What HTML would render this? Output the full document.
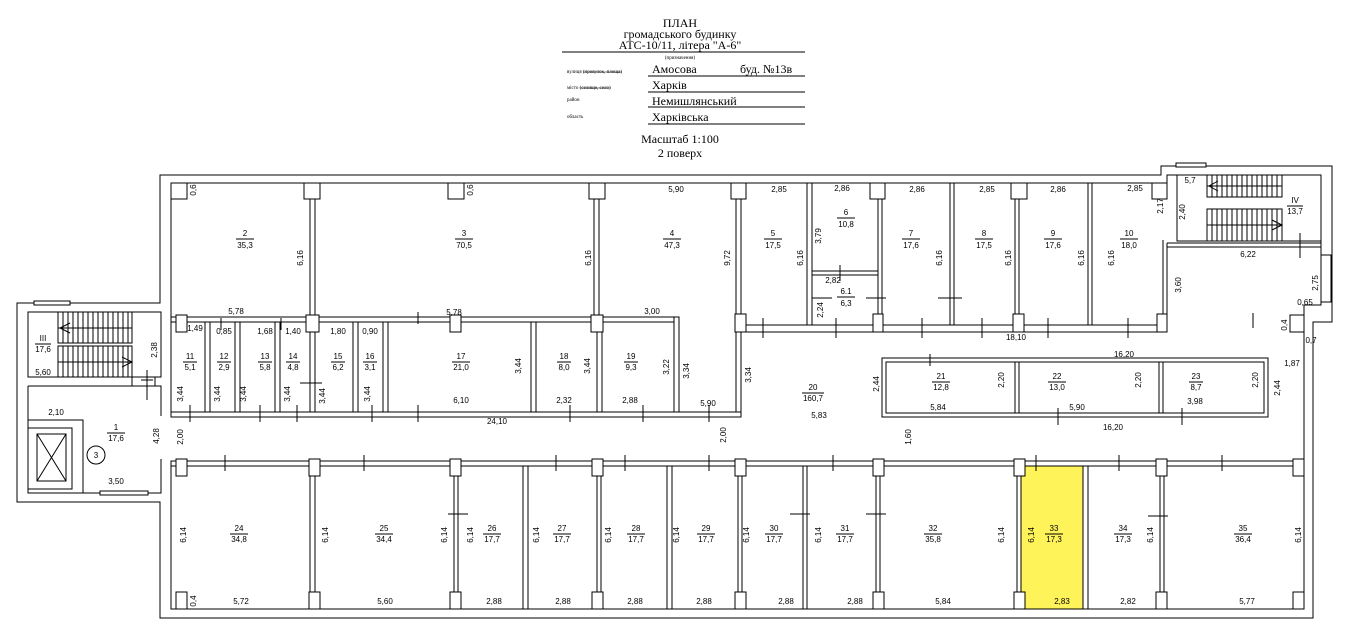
<!DOCTYPE html>
<html><head><meta charset="utf-8"><style>
html,body{margin:0;padding:0;background:#fff;width:1367px;height:635px;overflow:hidden}
svg{display:block}
text{font-family:"Liberation Sans",sans-serif;font-size:8px;fill:#000}
.s{font-family:"Liberation Serif",serif;font-size:12px}
.t{font-family:"Liberation Serif",serif;font-size:5px}
.w{fill:#fff;stroke:#000;stroke-width:1}
.l{stroke:#000;stroke-width:1;fill:none}
</style></head><body>
<svg width="1367" height="635" viewBox="0 0 1367 635" xmlns="http://www.w3.org/2000/svg">
<!-- header -->
<text class="s" x="680" y="27" text-anchor="middle">ПЛАН</text>
<text class="s" x="680" y="38" text-anchor="middle">громадського будинку</text>
<text class="s" x="680" y="49" text-anchor="middle">АТС-10/11, літера "А-6"</text>
<line class="l" x1="562" y1="52" x2="805" y2="52"/>
<text class="t" x="680" y="59" text-anchor="middle">(призначення)</text>
<text class="t" x="567" y="73">вулиця <tspan text-decoration="line-through">(провулок, площа)</tspan></text>
<text class="s" x="652" y="73">Амосова</text><text class="s" x="740" y="73">буд. №13в</text>
<line class="l" x1="648" y1="76" x2="805" y2="76"/>
<text class="t" x="567" y="89">місто <tspan text-decoration="line-through">(селище, село)</tspan></text>
<text class="s" x="652" y="89">Харків</text>
<line class="l" x1="648" y1="92" x2="805" y2="92"/>
<text class="t" x="567" y="101">район</text>
<text class="s" x="652" y="105">Немишлянський</text>
<line class="l" x1="648" y1="107" x2="805" y2="107"/>
<text class="t" x="567" y="118">область</text>
<text class="s" x="652" y="121">Харківська</text>
<line class="l" x1="648" y1="124" x2="805" y2="124"/>
<text class="s" x="680" y="143" text-anchor="middle">Масштаб 1:100</text>
<text class="s" x="680" y="157" text-anchor="middle">2  поверх</text>

<!-- yellow room -->
<rect x="1021" y="466" width="62" height="143" fill="#fff35a"/>

<!-- outer walls -->
<path class="l" stroke-width="1.3" d="M160,175 H1161 V166 H1332 V322 H1313 V618 H160 V502 H17 V303 H160 Z"/>
<path class="l" d="M171,183 H1167 V175 H1321 V305 H1304 V609 H171 V465 M171,412 V183"/>
<!-- stair III and lobby -->
<rect class="l" x="28" y="312" width="133" height="65"/>
<path class="l" d="M28,386 H161 V416 M161,459 V493 H28 V386 M132,377 V386 M155,377 V386"/>
<rect class="w" x="34" y="301" width="36" height="4"/>
<rect class="w" x="100" y="491" width="48" height="4"/>
<g class="l">
<rect x="58" y="312" width="74" height="31"/><rect x="58" y="346" width="74" height="31"/>
<path d="M63,312V343M68,312V343M73,312V343M78,312V343M83,312V343M88,312V343M93,312V343M98,312V343M103,312V343M108,312V343M113,312V343M118,312V343M123,312V343M128,312V343M63,346V377M68,346V377M73,346V377M78,346V377M83,346V377M88,346V377M93,346V377M98,346V377M103,346V377M108,346V377M113,346V377M118,346V377M123,346V377M128,346V377M58,328H132M58,362H132"/>
<path d="M70,323L60,328L70,333M122,357L132,362L122,367"/>
<rect x="28" y="420" width="55" height="73"/><rect x="28" y="428" width="44" height="61"/>
<rect x="37" y="434" width="29" height="47"/><path d="M37,434L66,481M66,434L37,481"/>
<circle cx="96" cy="455" r="9"/>
<path d="M147,370V400M141,380H153"/>
</g>
<!-- stair IV -->
<g class="l">
<rect x="1177" y="175" width="144" height="66"/>
<rect x="1207" y="175" width="75" height="22"/><rect x="1207" y="209" width="75" height="32"/>
<path d="M1212,175V197M1217,175V197M1222,175V197M1227,175V197M1232,175V197M1237,175V197M1242,175V197M1247,175V197M1252,175V197M1257,175V197M1262,175V197M1267,175V197M1272,175V197M1277,175V197M1212,209V241M1217,209V241M1222,209V241M1227,209V241M1232,209V241M1237,209V241M1242,209V241M1247,209V241M1252,209V241M1257,209V241M1262,209V241M1267,209V241M1272,209V241M1277,209V241M1207,186H1282M1207,225H1282M1218,181L1209,186L1218,191M1272,220L1282,225L1272,230"/>
<path d="M1167,243H1321M1167,247H1321M1167,243V332M1163,240V332M1300,233V258"/>
<rect class="w" x="1176" y="163" width="30" height="4"/>
<rect class="w" x="1321" y="255" width="10" height="47"/>
<rect class="w" x="1290" y="315" width="14" height="17"/>
</g>
<!-- top row columns -->
<g class="w">
<rect x="171" y="183" width="16" height="16"/><rect x="304" y="183" width="16" height="16"/><rect x="448" y="183" width="16" height="16"/>
<rect x="589" y="183" width="16" height="16"/><rect x="731" y="183" width="15" height="16"/><rect x="870" y="183" width="15" height="16"/>
<rect x="1011" y="183" width="16" height="16"/><rect x="1152" y="183" width="15" height="16"/>
</g>
<!-- upper interior walls -->
<g class="w">
<rect x="310" y="199" width="5" height="117"/><rect x="594" y="199" width="5" height="117"/><rect x="736" y="199" width="5" height="218"/>
<rect x="807" y="183" width="5" height="142"/><rect x="878" y="199" width="4" height="126"/><rect x="950" y="183" width="4" height="142"/>
<rect x="1015" y="199" width="4" height="126"/><rect x="1088" y="183" width="4" height="142"/>
<rect x="812" y="271" width="66" height="4"/>
<rect x="171" y="317" width="507" height="5"/><rect x="745" y="325" width="422" height="7"/>
<rect x="674" y="317" width="5" height="96"/>
<rect x="171" y="412" width="570" height="5"/>
<rect x="205" y="322" width="5" height="90"/><rect x="235" y="322" width="5" height="90"/><rect x="275" y="322" width="5" height="90"/>
<rect x="310" y="322" width="5" height="90"/><rect x="353" y="322" width="5" height="90"/><rect x="383" y="322" width="5" height="90"/>
<rect x="531" y="322" width="5" height="90"/><rect x="597" y="322" width="5" height="90"/>
<rect x="882" y="358" width="386" height="59"/>
</g>
<rect class="l" x="886" y="362" width="378" height="51"/>
<g class="w"><rect x="1015" y="362" width="4" height="51"/><rect x="1159" y="362" width="4" height="51"/></g>
<g class="w">
<rect x="176" y="315" width="11" height="17"/><rect x="306" y="315" width="13" height="17"/><rect x="450" y="315" width="11" height="17"/>
<rect x="591" y="315" width="12" height="17"/><rect x="735" y="314" width="11" height="18"/><rect x="873" y="314" width="10" height="18"/>
<rect x="1013" y="314" width="11" height="18"/><rect x="1157" y="314" width="10" height="18"/>
</g>
<!-- lower corridor wall and rooms -->
<rect class="w" x="171" y="461" width="1133" height="5"/>
<g class="w">
<rect x="310" y="466" width="5" height="143"/><rect x="454" y="466" width="4" height="143"/><rect x="523" y="466" width="5" height="143"/>
<rect x="597" y="466" width="4" height="143"/><rect x="667" y="466" width="5" height="143"/><rect x="738" y="466" width="4" height="143"/>
<rect x="803" y="466" width="4" height="143"/><rect x="876" y="466" width="4" height="143"/><rect x="1017" y="466" width="4" height="143"/>
<rect x="1083" y="466" width="5" height="143"/><rect x="1160" y="466" width="4" height="143"/>
</g>
<g class="w">
<rect x="176" y="459" width="11" height="17"/><rect x="309" y="459" width="11" height="17"/><rect x="450" y="459" width="11" height="17"/>
<rect x="592" y="459" width="11" height="17"/><rect x="735" y="459" width="11" height="17"/><rect x="873" y="459" width="11" height="17"/>
<rect x="1014" y="459" width="11" height="17"/><rect x="1156" y="459" width="11" height="17"/><rect x="1293" y="459" width="11" height="17"/>
<rect x="176" y="592" width="11" height="17"/><rect x="309" y="592" width="11" height="17"/><rect x="450" y="592" width="11" height="17"/>
<rect x="592" y="592" width="11" height="17"/><rect x="735" y="592" width="11" height="17"/><rect x="873" y="592" width="11" height="17"/>
<rect x="1014" y="592" width="11" height="17"/><rect x="1156" y="592" width="11" height="17"/><rect x="1293" y="592" width="11" height="17"/>
</g>
<!-- door ticks -->
<path class="l" d="M225,455V471M364,455V471M556,455V471M625,455V471M709,455V471M833,455V471M1036,455V471M1119,455V471M1222,455V471
M190,405V422M260,405V422M297,405V422M372,405V422M418,405V422M570,405V422M643,405V422M709,405V422
M763,318V338M836,318V338M922,318V338M982,318V338M1048,318V338M1128,318V338M1058,408V425M1182,408V425M930,354V366
M812,298H832M866,298H886M938,298H962M840,265V281M448,514H468M790,514H810M866,514H886M1148,516H1168M300,383H322M221,318V330M281,318V330M418,312V324M1253,313V328"/>

<!-- room labels -->
<g text-anchor="middle">
<text x="245" y="236">2</text><text x="245" y="248">35,3</text>
<text x="464" y="236">3</text><text x="464" y="248">70,5</text>
<text x="672" y="236">4</text><text x="672" y="248">47,3</text>
<text x="773" y="236">5</text><text x="773" y="248">17,5</text>
<text x="846" y="215">6</text><text x="846" y="227">10,8</text>
<text x="846" y="294">6.1</text><text x="846" y="306">6,3</text>
<text x="911" y="236">7</text><text x="911" y="248">17,6</text>
<text x="984" y="236">8</text><text x="984" y="248">17,5</text>
<text x="1053" y="236">9</text><text x="1053" y="248">17,6</text>
<text x="1129" y="236">10</text><text x="1129" y="248">18,0</text>
<text x="1295" y="203">IV</text><text x="1295" y="214">13,7</text>
<text x="43" y="341">III</text><text x="43" y="352">17,6</text>
<text x="116" y="430">1</text><text x="116" y="441">17,6</text>
<text x="190" y="359">11</text><text x="190" y="370">5,1</text>
<text x="224" y="359">12</text><text x="224" y="370">2,9</text>
<text x="265" y="359">13</text><text x="265" y="370">5,8</text>
<text x="293" y="359">14</text><text x="293" y="370">4,8</text>
<text x="338" y="359">15</text><text x="338" y="370">6,2</text>
<text x="370" y="359">16</text><text x="370" y="370">3,1</text>
<text x="461" y="359">17</text><text x="461" y="370">21,0</text>
<text x="564" y="359">18</text><text x="564" y="370">8,0</text>
<text x="631" y="359">19</text><text x="631" y="370">9,3</text>
<text x="813" y="390">20</text><text x="813" y="401">160,7</text>
<text x="941" y="379">21</text><text x="941" y="390">12,8</text>
<text x="1057" y="379">22</text><text x="1057" y="390">13,0</text>
<text x="1196" y="379">23</text><text x="1196" y="390">8,7</text>
<text x="239" y="531">24</text><text x="239" y="542">34,8</text>
<text x="384" y="531">25</text><text x="384" y="542">34,4</text>
<text x="492" y="531">26</text><text x="492" y="542">17,7</text>
<text x="562" y="531">27</text><text x="562" y="542">17,7</text>
<text x="636" y="531">28</text><text x="636" y="542">17,7</text>
<text x="706" y="531">29</text><text x="706" y="542">17,7</text>
<text x="774" y="531">30</text><text x="774" y="542">17,7</text>
<text x="845" y="531">31</text><text x="845" y="542">17,7</text>
<text x="933" y="531">32</text><text x="933" y="542">35,8</text>
<text x="1054" y="531">33</text><text x="1054" y="542">17,3</text>
<text x="1123" y="531">34</text><text x="1123" y="542">17,3</text>
<text x="1243" y="531">35</text><text x="1243" y="542">36,4</text>
<text x="96" y="458">3</text>
</g>
<g class="l" stroke-width="0.8">
<path d="M236,239H254M455,239H473M663,239H681M764,239H782M837,218H855M837,297H855M902,239H920M975,239H993M1044,239H1062M1120,239H1138M1287,206H1303M35,344H51M107,433H125M183,362H197M217,362H231M258,362H272M286,362H300M331,362H345M363,362H377M452,362H470M557,362H571M624,362H638M802,393H824M932,382H950M1048,382H1066M1189,382H1203M230,534H248M375,534H393M483,534H501M553,534H571M627,534H645M697,534H715M765,534H783M836,534H854M924,534H942M1045,534H1063M1114,534H1132M1234,534H1252"/>
</g>
<!-- horizontal dims -->
<g text-anchor="middle">
<text x="676" y="192">5,90</text><text x="779" y="192">2,85</text><text x="842" y="191">2,86</text><text x="917" y="192">2,86</text>
<text x="987" y="192">2,85</text><text x="1058" y="192">2,86</text><text x="1135" y="191">2,85</text><text x="1190" y="183">5,7</text>
<text x="1248" y="257">6,22</text><text x="1305" y="305">0,65</text><text x="1311" y="343">0,7</text><text x="1292" y="366">1,87</text>
<text x="1124" y="357">16,20</text><text x="1113" y="430">16,20</text><text x="938" y="410">5,84</text><text x="1077" y="410">5,90</text>
<text x="1195" y="404">3,98</text><text x="1016" y="340">18,10</text><text x="819" y="418">5,83</text><text x="708" y="406">5,90</text>
<text x="497" y="424">24,10</text><text x="461" y="403">6,10</text><text x="564" y="403">2,32</text><text x="630" y="403">2,88</text>
<text x="652" y="314">3,00</text><text x="236" y="314">5,78</text><text x="454" y="315">5,78</text><text x="833" y="283">2,82</text>
<text x="195" y="331">1,49</text><text x="224" y="334">0,85</text><text x="265" y="334">1,68</text><text x="293" y="334">1,40</text>
<text x="338" y="334">1,80</text><text x="370" y="334">0,90</text><text x="56" y="415">2,10</text><text x="116" y="484">3,50</text>
<text x="43" y="375">5,60</text>
<text x="241" y="604">5,72</text><text x="385" y="604">5,60</text><text x="494" y="604">2,88</text><text x="563" y="604">2,88</text>
<text x="635" y="604">2,88</text><text x="704" y="604">2,88</text><text x="786" y="604">2,88</text><text x="855" y="604">2,88</text>
<text x="943" y="604">5,84</text><text x="1062" y="604">2,83</text><text x="1128" y="604">2,82</text><text x="1247" y="604">5,77</text>
</g>
<!-- vertical dims -->
<g text-anchor="middle">
<text transform="translate(196,190) rotate(-90)">0,6</text>
<text transform="translate(473,190) rotate(-90)">0,6</text>
<text transform="translate(196,601) rotate(-90)">0,4</text>
<text transform="translate(303,258) rotate(-90)">6,16</text>
<text transform="translate(591,258) rotate(-90)">6,16</text>
<text transform="translate(730,258) rotate(-90)">9,72</text>
<text transform="translate(803,258) rotate(-90)">6,16</text>
<text transform="translate(821,236) rotate(-90)">3,79</text>
<text transform="translate(942,258) rotate(-90)">6,16</text>
<text transform="translate(1011,258) rotate(-90)">6,16</text>
<text transform="translate(1084,258) rotate(-90)">6,16</text>
<text transform="translate(1114,258) rotate(-90)">6,16</text>
<text transform="translate(1163,206) rotate(-90)">2,17</text>
<text transform="translate(1185,212) rotate(-90)">2,40</text>
<text transform="translate(1181,285) rotate(-90)">3,60</text>
<text transform="translate(1318,283) rotate(-90)">2,75</text>
<text transform="translate(1287,325) rotate(-90)">0,4</text>
<text transform="translate(1280,388) rotate(-90)">2,44</text>
<text transform="translate(1004,380) rotate(-90)">2,20</text>
<text transform="translate(1141,380) rotate(-90)">2,20</text>
<text transform="translate(1258,380) rotate(-90)">2,20</text>
<text transform="translate(879,384) rotate(-90)">2,44</text>
<text transform="translate(911,437) rotate(-90)">1,60</text>
<text transform="translate(726,435) rotate(-90)">2,00</text>
<text transform="translate(183,437) rotate(-90)">2,00</text>
<text transform="translate(159,436) rotate(-90)">4,28</text>
<text transform="translate(751,375) rotate(-90)">3,34</text>
<text transform="translate(689,371) rotate(-90)">3,34</text>
<text transform="translate(669,367) rotate(-90)">3,22</text>
<text transform="translate(590,366) rotate(-90)">3,44</text>
<text transform="translate(521,366) rotate(-90)">3,44</text>
<text transform="translate(823,310) rotate(-90)">2,24</text>
<text transform="translate(157,350) rotate(-90)">2,38</text>
<text transform="translate(183,394) rotate(-90)">3,44</text>
<text transform="translate(220,394) rotate(-90)">3,44</text>
<text transform="translate(246,394) rotate(-90)">3,44</text>
<text transform="translate(290,394) rotate(-90)">3,44</text>
<text transform="translate(325,396) rotate(-90)">3,44</text>
<text transform="translate(370,394) rotate(-90)">3,44</text>
<text transform="translate(186,535) rotate(-90)">6,14</text>
<text transform="translate(328,535) rotate(-90)">6,14</text>
<text transform="translate(447,535) rotate(-90)">6,14</text>
<text transform="translate(473,535) rotate(-90)">6,14</text>
<text transform="translate(539,535) rotate(-90)">6,14</text>
<text transform="translate(611,535) rotate(-90)">6,14</text>
<text transform="translate(679,535) rotate(-90)">6,14</text>
<text transform="translate(749,535) rotate(-90)">6,14</text>
<text transform="translate(821,535) rotate(-90)">6,14</text>
<text transform="translate(1004,535) rotate(-90)">6,14</text>
<text transform="translate(1034,535) rotate(-90)">6,14</text>
<text transform="translate(1153,535) rotate(-90)">6,14</text>
<text transform="translate(1301,535) rotate(-90)">6,14</text>
</g>
</svg>
</body></html>
